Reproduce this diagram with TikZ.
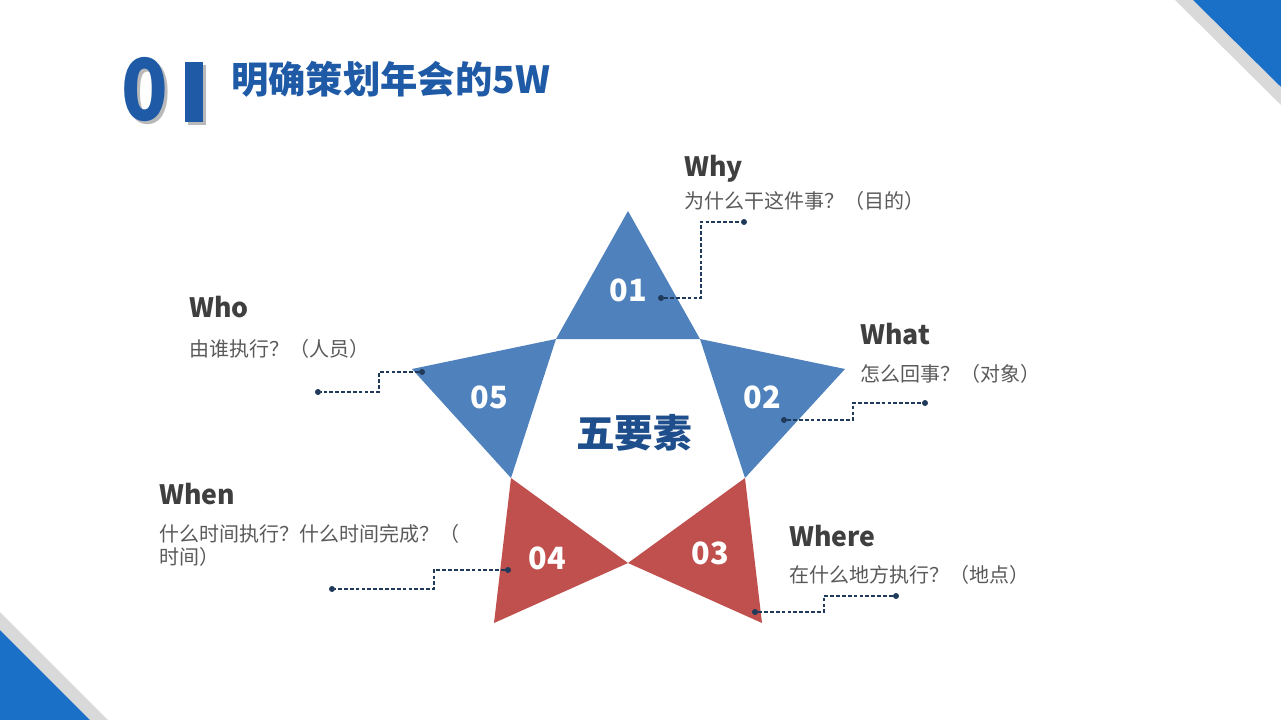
\documentclass[tikz,border=0pt]{standalone}
\usepackage{fontspec}
\setmainfont{Noto Sans CJK SC}
\usetikzlibrary{calc}
\definecolor{starblue}{HTML}{4F81BD}
\definecolor{starred}{HTML}{C0504D}
\definecolor{cornerblue}{HTML}{1A70C6}
\definecolor{cornergray}{HTML}{D9D9D9}
\definecolor{titleblue}{HTML}{1F5AA6}
\definecolor{centerblue}{HTML}{1F4E8C}
\definecolor{headgray}{HTML}{3F3F3F}
\definecolor{subgray}{HTML}{595959}
\definecolor{linknavy}{HTML}{1F3A5A}
\tikzset{
  head/.style={anchor=base west, inner sep=0pt, font=\fontsize{20}{24}\selectfont\bfseries, text=headgray},
  sub/.style={anchor=base west, inner sep=0pt, font=\fontsize{15}{17.25}\selectfont, text=subgray, align=left},
  num/.style={inner sep=0pt, font=\fontsize{23}{26}\selectfont\bfseries, text=white},
  link/.style={draw=linknavy, line width=0.8pt, dash pattern=on 2.8pt off 1.6pt},
  dotmark/.style={circle, fill=linknavy, inner sep=0pt, minimum size=4.5pt},
}
\begin{document}
\begin{tikzpicture}[x=0.75pt,y=-0.75pt]
\useasboundingbox (0,0) rectangle (1281,720);
% corner decorations
\fill[cornergray] (1175,0) -- (1193,0) -- (1281,87) -- (1281,105) -- cycle;
\fill[cornerblue] (1193,0) -- (1281,0) -- (1281,87) -- cycle;
\fill[cornergray] (0,612) -- (0,630) -- (90,720) -- (108,720) -- cycle;
\fill[cornerblue] (0,630) -- (0,720) -- (90,720) -- cycle;
% title
\node[anchor=base, inner sep=0pt, text=titleblue, xscale=0.9, font=\fontsize{64}{68}\selectfont\bfseries] (bigzero) at (145,121) {\rlap{\kern2.5pt\raisebox{-2.2pt}{\color{gray!55}0}}0};
\fill[gray!55] (188,65) rectangle (206,125);
\fill[titleblue] (185,62) rectangle (203,122);
\node[anchor=base west, inner sep=0pt, text=titleblue, font=\fontsize{28}{32}\selectfont\bfseries] (title) at (231,94) {明确策划年会的5W};
% star
\coordinate (p1) at (556,339);
\coordinate (p2) at (700,339);
\coordinate (p3) at (745,478);
\coordinate (p4) at (628,563);
\coordinate (p5) at (511,478);
\fill[starblue] (p1) -- (628,211) -- (p2) -- cycle;
\fill[starblue] (p2) -- (845,369) -- (p3) -- cycle;
\fill[starblue] (p1) -- (412,369) -- (p5) -- cycle;
\fill[starred] (p5) -- (494,623) -- (p4) -- cycle;
\fill[starred] (p3) -- (762,623) -- (p4) -- cycle;
\node[num] (n1) at (628,290) {01};
\node[num] (n2) at (762,397) {02};
\node[num] (n3) at (710,553) {03};
\node[num] (n4) at (547,558) {04};
\node[num] (n5) at (489,397) {05};
\node[inner sep=0pt, text=centerblue, font=\fontsize{29}{32}\selectfont\bfseries] (center) at (634,433) {五要素};
% texts
\node[head] (whyh) at (684,177) {Why};
\node[sub] (whys) at (684,209) {为什么干这件事？（目的）};
\node[head] (whath) at (860,344) {What};
\node[sub] (whats) at (860,381) {怎么回事？（对象）};
\node[head] (whoh) at (189,317) {Who};
\node[sub] (whos) at (189,356) {由谁执行？（人员）};
\node[head] (whenh) at (159,504) {When};
\node[sub] (whens) at (159,564) {什么时间执行？什么时间完成？（\\时间）};
\node[head] (whereh) at (789,546) {Where};
\node[sub] (wheres) at (789,582) {在什么地方执行？（地点）};
% connectors
\node[dotmark] (a1) at (661,298) {};
\node[dotmark] (b1) at (744,222) {};
\coordinate (k1) at (701,298);
\draw[link] (a1) -- (k1) |- (b1);
\node[dotmark] (a2) at (784,420) {};
\node[dotmark] (b2) at (925,403) {};
\coordinate (k2) at (853,420);
\draw[link] (a2) -- (k2) |- (b2);
\node[dotmark] (a5) at (422,372) {};
\node[dotmark] (b5) at (318,392) {};
\coordinate (k5) at (379,372);
\draw[link] (a5) -- (k5) |- (b5);
\node[dotmark] (a4) at (508,570) {};
\node[dotmark] (b4) at (332,589) {};
\coordinate (k4) at (434,570);
\draw[link] (a4) -- (k4) |- (b4);
\node[dotmark] (a3) at (755,612) {};
\node[dotmark] (b3) at (896,596) {};
\coordinate (k3) at (824,612);
\draw[link] (a3) -- (k3) |- (b3);
\end{tikzpicture}
\end{document}
